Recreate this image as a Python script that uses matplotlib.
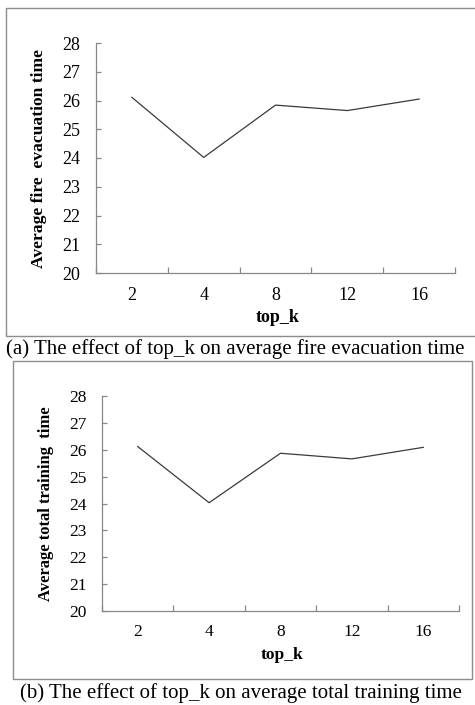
import numpy as np
import matplotlib.pyplot as plt
from matplotlib.patches import Rectangle

plt.rcParams['font.family'] = ['Liberation Serif', 'DejaVu Serif']

top_k = ['2', '4', '8', '12', '16']
fire_evac = [26.11, 24.02, 25.84, 25.65, 26.05]
train_time = [26.12, 24.03, 25.87, 25.66, 26.09]

W, H = 475, 705
fig = plt.figure(figsize=(W / 100, H / 100), dpi=100)


def fx(x):
    return x / W


def fy(y):
    return 1 - y / H


def panel(left, top, right, bottom, vals, ylab, tfs, yfs, xfs, pad, ylab_x, xt_y, xl_y):
    ax = fig.add_axes([fx(left), fy(bottom), fx(right - left), (bottom - top) / H])
    x = np.arange(len(vals))
    ax.plot(x, vals, color='#3a3a3a', lw=0.9)
    ax.set_xlim(-0.5, len(vals) - 0.5)
    ax.set_ylim(20, 28)
    ax.set_yticks(range(20, 29))
    ax.set_xticks(x)
    ax.set_xticklabels([])
    ax.set_xticks(np.arange(len(vals) + 1) - 0.5, minor=True)
    ax.tick_params(axis='x', which='major', length=0)
    ax.tick_params(axis='x', which='minor', direction='in', length=4, color='#888888', width=0.9)
    ax.tick_params(axis='y', direction='in', length=3.5, color='#888888', width=0.9,
                   labelsize=tfs, pad=pad)
    for s in ['top', 'right']:
        ax.spines[s].set_visible(False)
    for s in ['left', 'bottom']:
        ax.spines[s].set_color('#888888')
        ax.spines[s].set_linewidth(0.9)
    yrel = (fy(xt_y) - fy(bottom)) / ((bottom - top) / H)
    for xi, lab in zip(x, top_k):
        ax.text(xi, yrel, lab, transform=ax.get_xaxis_transform(), ha='center', va='center',
                fontsize=tfs)
    fig.text(fx(ylab_x), fy((top + bottom) / 2), ylab, rotation=90, ha='center', va='center',
             fontsize=yfs, fontweight='bold')
    fig.text(fx((left + right) / 2 + 2), fy(xl_y), 'top_k', ha='center', va='center',
             fontsize=xfs, fontweight='bold')
    return ax


panel(96, 43, 455, 273, fire_evac, 'Average fire  evacuation time', 13, 12.6, 13, 11.5, 39, 295, 317)
panel(102, 396, 459, 611, train_time, 'Average total training  time', 12.5, 12.0, 12.6, 10.8, 46, 632, 655)

# panel borders
fig.patches.append(Rectangle((fx(6), fy(336)), fx(480 - 6), (336 - 8) / H, transform=fig.transFigure,
                             fill=False, edgecolor='#8c8c8c', lw=1))
fig.patches.append(Rectangle((fx(13), fy(679)), fx(472 - 13), (679 - 361) / H, transform=fig.transFigure,
                             fill=False, edgecolor='#8c8c8c', lw=1))

fig.text(fx(6), fy(349), '(a) The effect of top_k on average fire evacuation time',
         ha='left', va='center', fontsize=15.0)
fig.text(fx(241), fy(693), '(b) The effect of top_k on average total training time',
         ha='center', va='center', fontsize=15.0)

plt.savefig('out.png', dpi=100)
